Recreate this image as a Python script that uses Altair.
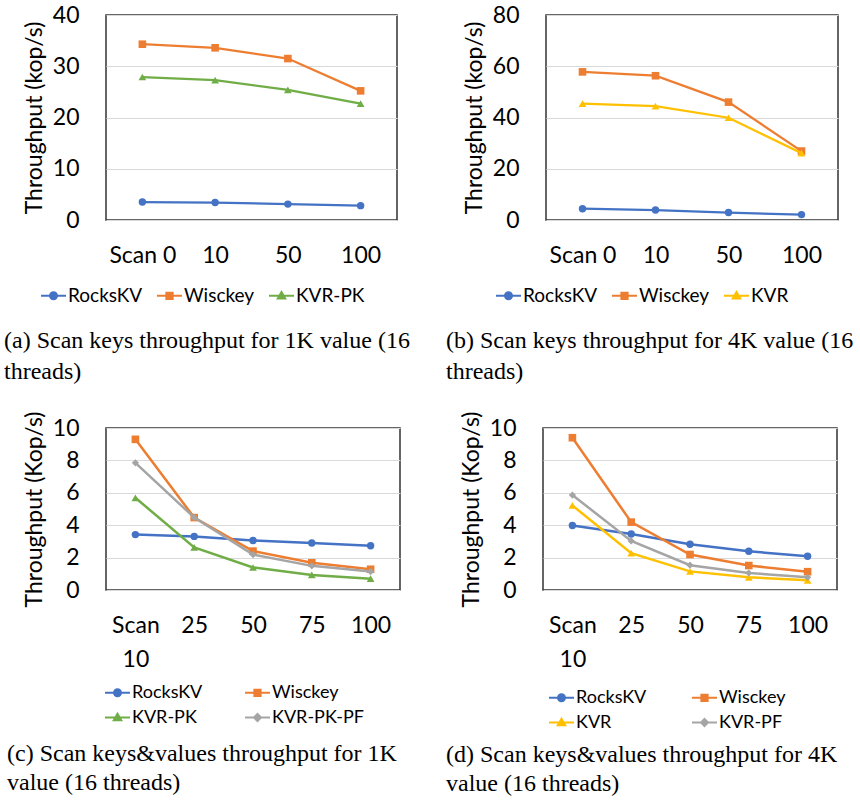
import altair as alt
import pandas as pd

# ---------------- data ----------------
cats_ab = ["Scan 0", "10", "50", "100"]
cats_cd = ["Scan 10", "25", "50", "75", "100"]

a_rockskv = [3.5, 3.4, 3.1, 2.8]
a_wisckey = [34.3, 33.6, 31.5, 25.2]
a_kvr_pk = [27.9, 27.3, 25.4, 22.7]

b_rockskv = [4.4, 3.9, 2.9, 2.1]
b_wisckey = [57.8, 56.3, 46.0, 26.9]
b_kvr = [45.4, 44.4, 39.9, 26.1]

c_rockskv = [3.42, 3.31, 3.06, 2.90, 2.73]
c_wisckey = [9.3, 4.47, 2.40, 1.68, 1.28]
c_kvr_pk = [5.69, 2.63, 1.39, 0.93, 0.70]
c_kvr_pk_pf = [7.85, 4.47, 2.19, 1.49, 1.14]

d_rockskv = [3.98, 3.46, 2.82, 2.39, 2.08]
d_wisckey = [9.40, 4.19, 2.19, 1.51, 1.13]
d_kvr = [5.22, 2.27, 1.15, 0.78, 0.60]
d_kvr_pf = [5.86, 3.03, 1.53, 1.05, 0.78]

BLUE, ORANGE, GREEN, YELLOW, GRAY = "#4472C4", "#ED7D31", "#70AD47", "#FFC000", "#A5A5A5"

# marker definitions: (vega shape for plot, legend path, size)
MARK = {
    "circle": ("circle", "M-1,0H1M-0.28,0A0.28,0.28 0 1,0 0.28,0A0.28,0.28 0 1,0 -0.28,0Z", 55),
    "square": ("square", "M-1,0H1M-0.25,-0.25H0.25V0.25H-0.25Z", 58),
    "triangle": ("triangle-up", "M-1,0H1M0,-0.3L0.3,0.22L-0.3,0.22Z", 60),
    "diamond": ("diamond", "M-1,0H1M0,-0.28L0.28,0L0,0.28L-0.28,0Z", 52),
}

FONT = "Lato"
CAP_FONT = "Liberation Serif"

IND = dict(fill="independent", stroke="independent", shape="independent")


def panel(key, cats, series, ymax, ystep, ytitle, width, height, leg_x, leg_y,
          leg_cols, leg_colpad, leg_font, caption, cap_dx, cap_offset, cap_lh, multiline_x, lw):
    rows = []
    for name, vals, _, _ in series:
        for c, v in zip(cats, vals):
            rows.append({"cat": c, "series": name, "value": v})
    df = pd.DataFrame(rows)

    xaxis = alt.Axis(title=None, domain=False, ticks=False, grid=False, labelAngle=0,
                     labelFontSize=23, labelPadding=24, labelFont=FONT, labelColor="black",
                     labelLineHeight=34, labelBaseline="top",
                     **({"labelExpr": "split(datum.label, ' ')"} if multiline_x else {}))
    X = alt.X("cat:N", sort=cats, scale=alt.Scale(type="point", domain=cats, padding=0.5), axis=xaxis)
    Y = alt.Y("value:Q", scale=alt.Scale(domain=[0, ymax], nice=False, zero=True),
              axis=alt.Axis(title=ytitle, values=list(range(0, ymax + 1, ystep)), domain=False,
                            ticks=False, tickSize=0, grid=True, gridColor="#D9D9D9", gridWidth=1,
                            labelFontSize=23, labelPadding=27, labelFont=FONT, labelColor="black",
                            titleFontSize=23, titleFont=FONT, titleFontWeight="normal",
                            titleColor="black", titlePadding=6))

    names = [s[0] for s in series]
    colors = [s[2] for s in series]
    paths = [MARK[s[3]][1] for s in series]

    layers = []
    for name, vals, col, mk in series:
        base = alt.Chart(df).transform_filter(alt.datum.series == name)
        layers.append(base.mark_line(color=col, strokeWidth=lw).encode(x=X, y=Y))
        layers.append(base.mark_point(shape=MARK[mk][0], filled=True, size=MARK[mk][2],
                                      color=col, opacity=1).encode(x=X, y=Y))

    leg = alt.Legend(title=None, orient="none", legendX=leg_x, legendY=leg_y,
                     direction="horizontal", columns=leg_cols, columnPadding=leg_colpad,
                     rowPadding=2, symbolSize=625, symbolStrokeWidth=2, labelOffset=1,
                     labelFontSize=leg_font, labelFont=FONT, labelColor="black",
                     symbolOpacity=1, labelLimit=300)
    fld = "series_" + key
    legend_layer = alt.Chart(df).transform_calculate(**{fld: "datum.series"}).transform_filter("false").mark_point(
        filled=True, opacity=1).encode(
        x=X, y=Y,
        fill=alt.Fill(fld + ":N", scale=alt.Scale(domain=names, range=colors), legend=leg),
        stroke=alt.Stroke(fld + ":N", scale=alt.Scale(domain=names, range=colors), legend=leg),
        shape=alt.Shape(fld + ":N", scale=alt.Scale(domain=names, range=paths), legend=leg),
    )
    layers.append(legend_layer)

    return alt.layer(*layers).properties(
        width=width, height=height,
        title=alt.TitleParams(text=caption, orient="bottom", anchor="start", frame="group",
                              dx=cap_dx, offset=cap_offset, font=CAP_FONT, fontSize=24,
                              fontWeight="normal", lineHeight=cap_lh, color="black"),
    )


pa = panel("a", cats_ab,
           [("RocksKV", a_rockskv, BLUE, "circle"), ("Wisckey", a_wisckey, ORANGE, "square"),
            ("KVR-PK", a_kvr_pk, GREEN, "triangle")],
           40, 10, "Throughput (kop/s)", 291, 205, -66, 267, 3, 10, 19,
           ["(a) Scan keys throughput for 1K value (16", "threads)"], -102, 23, 31, False, 2.25)
pb = panel("b", cats_ab,
           [("RocksKV", b_rockskv, BLUE, "circle"), ("Wisckey", b_wisckey, ORANGE, "square"),
            ("KVR", b_kvr, YELLOW, "triangle")],
           80, 20, "Throughput (kop/s)", 292, 205, -51, 267, 3, 10, 19,
           ["(b) Scan keys throughput for 4K value (16", "threads)"], -100, 23, 31, False, 2.25)
pc = panel("c", cats_cd,
           [("RocksKV", c_rockskv, BLUE, "circle"), ("Wisckey", c_wisckey, ORANGE, "square"),
            ("KVR-PK", c_kvr_pk, GREEN, "triangle"), ("KVR-PK-PF", c_kvr_pk_pf, GRAY, "diamond")],
           10, 2, "Throughput (Kop/s)", 294, 162, -2, 251, 2, 38, 18,
           ["(c) Scan keys&values throughput for 1K", "value (16 threads)"], -99, 15, 29, True, 2.5)
pd_ = panel("d", cats_cd,
            [("RocksKV", d_rockskv, BLUE, "circle"), ("Wisckey", d_wisckey, ORANGE, "square"),
             ("KVR", d_kvr, YELLOW, "triangle"), ("KVR-PF", d_kvr_pf, GRAY, "diamond")],
            10, 2, "Throughput (Kop/s)", 294, 162, 5, 256, 2, 41, 18,
            ["(d) Scan keys&values throughput for 4K", "value (16 threads)"], -97, 11, 29, True, 2.5)

row1 = alt.hconcat(pa, pb, spacing=149, bounds="flush").resolve_scale(**IND).resolve_legend(**IND)
row2 = alt.hconcat(pc, pd_, spacing=143, bounds="flush").resolve_scale(**IND).resolve_legend(**IND)

chart = alt.vconcat(row1, row2, spacing=413, bounds="flush").resolve_scale(**IND).resolve_legend(**IND).properties(
    padding={"left": 3, "top": 3, "right": 0, "bottom": 0},
    background="white",
).configure_view(stroke="#333333", strokeWidth=1.5)

chart.save("out.html", embed_options={"renderer": "svg", "actions": False})
